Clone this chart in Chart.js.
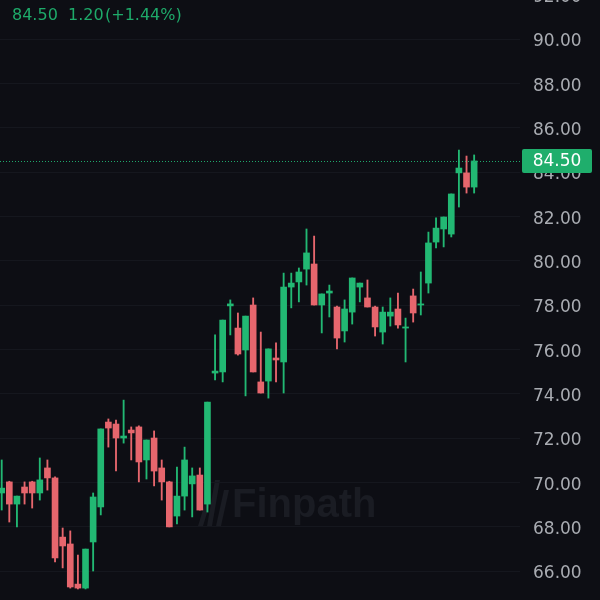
<!DOCTYPE html>
<html>
<head>
<meta charset="utf-8">
<script src="https://cdn.jsdelivr.net/npm/chart.js@4.4.1/dist/chart.umd.min.js"></script>
<style>
  html, body { margin: 0; padding: 0; background: #0d0e14; width: 600px; height: 600px; overflow: hidden; }
  #wrap { position: absolute; left: 0; top: -40px; width: 600px; height: 680px; }
</style>
</head>
<body>
<div id="wrap"><canvas id="c"></canvas></div>
<script>
// OHLC values (oldest -> newest)
const openVals  = [69.52,70.02,69.02,69.79,70.02,69.52,70.65,70.20,67.53,67.22,65.41,65.23,67.31,68.89,72.72,72.63,72.00,72.36,72.50,71.01,72.00,70.65,70.02,68.48,69.38,69.93,70.33,69.02,74.93,74.98,77.96,76.96,75.97,78.00,74.53,74.57,75.61,75.43,78.81,79.04,79.62,79.85,78.00,78.54,77.91,76.83,77.68,78.81,78.32,77.91,76.78,77.50,77.82,76.96,78.41,78.00,78.99,80.84,81.43,81.20,83.96,83.96,83.32];
const highVals  = [71.01,70.05,69.38,70.02,70.05,71.10,71.01,70.25,67.94,67.81,66.72,66.99,69.52,72.41,72.86,72.81,73.71,72.50,72.55,71.91,72.32,71.01,70.05,70.69,71.59,70.65,70.65,73.62,76.65,77.32,78.23,77.64,77.50,78.32,76.78,76.02,76.29,79.44,79.44,79.67,81.43,81.11,78.50,78.90,77.95,78.23,79.22,78.99,79.13,77.95,77.91,78.32,78.54,77.41,78.72,79.49,81.29,81.93,81.97,83.01,84.99,84.72,84.77];
const lowVals   = [68.75,68.21,67.99,69.02,68.84,69.20,69.65,66.41,66.14,65.23,65.19,65.19,66.00,68.53,71.59,70.51,71.77,71.01,70.02,70.15,69.84,69.20,67.99,68.12,68.75,68.44,68.75,68.66,74.62,74.53,76.65,75.74,73.90,74.98,74.03,73.80,74.53,74.03,77.87,78.14,78.90,78.00,76.74,77.46,76.02,76.33,77.14,78.14,77.91,76.60,76.24,77.05,76.96,75.43,77.23,77.55,78.54,80.57,80.62,81.07,82.42,83.05,83.05];
const closeVals = [69.74,69.02,69.38,69.52,69.52,70.11,70.20,66.59,67.13,65.28,65.23,66.99,69.34,72.41,72.45,72.00,72.09,72.23,70.92,71.91,70.51,70.02,67.99,69.38,71.01,70.29,68.75,73.62,75.02,77.32,78.05,75.79,77.50,74.98,74.03,76.02,75.52,78.81,78.99,79.49,80.35,78.00,78.50,78.63,76.51,77.82,79.22,78.99,77.91,77.01,77.68,77.68,77.10,77.01,77.64,78.05,80.80,81.47,81.97,83.01,84.18,83.32,84.50];
const lastPrice = 84.50;
const headerTexts = ["84.50", "1.20", "(+1.44%)"];
const watermarkText = "Finpath";

const GREEN = '#22b873';
const RED = '#e6666d';
const idx = closeVals.map((_, i) => i);
const colors = idx.map(i => closeVals[i] >= openVals[i] ? GREEN : RED);
const bodyData = idx.map(i => ({ x: i, y: [openVals[i], closeVals[i]] }));
const wickData = idx.map(i => ({ x: i, y: [lowVals[i], highVals[i]] }));

const overlay = {
  id: 'overlay',
  beforeDraw(chart) {
    const ctx = chart.ctx;
    ctx.save();
    ctx.fillStyle = '#1a1c23';
    const bars = [[198, 40, 26], [207, 20, 46], [216, 30, 36]];
    bars.forEach(([bx, top, h]) => {
      ctx.beginPath();
      ctx.moveTo(bx + 8, 500 + top);
      ctx.lineTo(bx + 13, 500 + top);
      ctx.lineTo(bx + 5, 500 + top + h);
      ctx.lineTo(bx, 500 + top + h);
      ctx.closePath();
      ctx.fill();
    });
    ctx.font = 'bold 40px "Liberation Sans", Arial, sans-serif';
    ctx.textBaseline = 'alphabetic';
    ctx.textAlign = 'left';
    ctx.fillText(watermarkText, 232, 517 + 40);
    ctx.restore();
  },
  afterDraw(chart) {
    const ctx = chart.ctx;
    const y = chart.scales.y.getPixelForValue(lastPrice);
    const ca = chart.chartArea;
    ctx.save();
    ctx.strokeStyle = '#1fa86b';
    ctx.lineWidth = 1;
    ctx.setLineDash([1, 2]);
    ctx.beginPath();
    ctx.moveTo(ca.left, Math.round(y) + 0.5);
    ctx.lineTo(ca.right, Math.round(y) + 0.5);
    ctx.stroke();
    ctx.setLineDash([]);
    ctx.fillStyle = '#1fae6c';
    const bx = ca.right + 2, bw = 70, bh = 24;
    ctx.beginPath();
    ctx.roundRect(bx, y - 12, bw, bh, 2);
    ctx.fill();
    ctx.fillStyle = '#ffffff';
    ctx.font = '17px "DejaVu Sans", sans-serif';
    ctx.textAlign = 'center';
    ctx.textBaseline = 'middle';
    ctx.fillText(lastPrice.toFixed(2), bx + bw / 2, y + 1);
    ctx.fillStyle = '#1eaa6a';
    ctx.font = '16px "DejaVu Sans", sans-serif';
    ctx.textAlign = 'left';
    ctx.textBaseline = 'alphabetic';
    const hx = [12, 68, 105];
    headerTexts.forEach((t, i) => ctx.fillText(t, hx[i], 19.5 + 40));
    ctx.restore();
  }
};

new Chart(document.getElementById('c'), {
  type: 'bar',
  data: {
    datasets: [
      { data: bodyData, backgroundColor: colors, barThickness: 6, minBarLength: 1, grouped: false, borderWidth: 0, borderSkipped: false },
      { data: wickData, backgroundColor: colors, barThickness: 1.2, grouped: false, borderWidth: 0, borderSkipped: false }
    ]
  },
  options: {
    responsive: true,
    maintainAspectRatio: false,
    animation: false,
    layout: { padding: 0 },
    plugins: { legend: { display: false }, tooltip: { enabled: false } },
    scales: {
      x: { type: 'linear', display: false, offset: false, min: -0.223, max: 68.018 },
      y: {
        position: 'right',
        min: 62.888, max: 93.564,
        border: { display: false },
        grid: { color: '#15171e', drawTicks: false },
        ticks: {
          stepSize: 2, includeBounds: false, padding: 13, labelOffset: 3,
          color: '#a9acb2',
          font: { family: '"DejaVu Sans", sans-serif', size: 17 },
          callback: v => Number(v).toFixed(2)
        },
        afterFit(scale) {
          scale.width = 80;
          scale.paddingTop = 0;
          scale.paddingBottom = 0;
        }
      }
    }
  },
  plugins: [overlay]
});
</script>
</body>
</html>
